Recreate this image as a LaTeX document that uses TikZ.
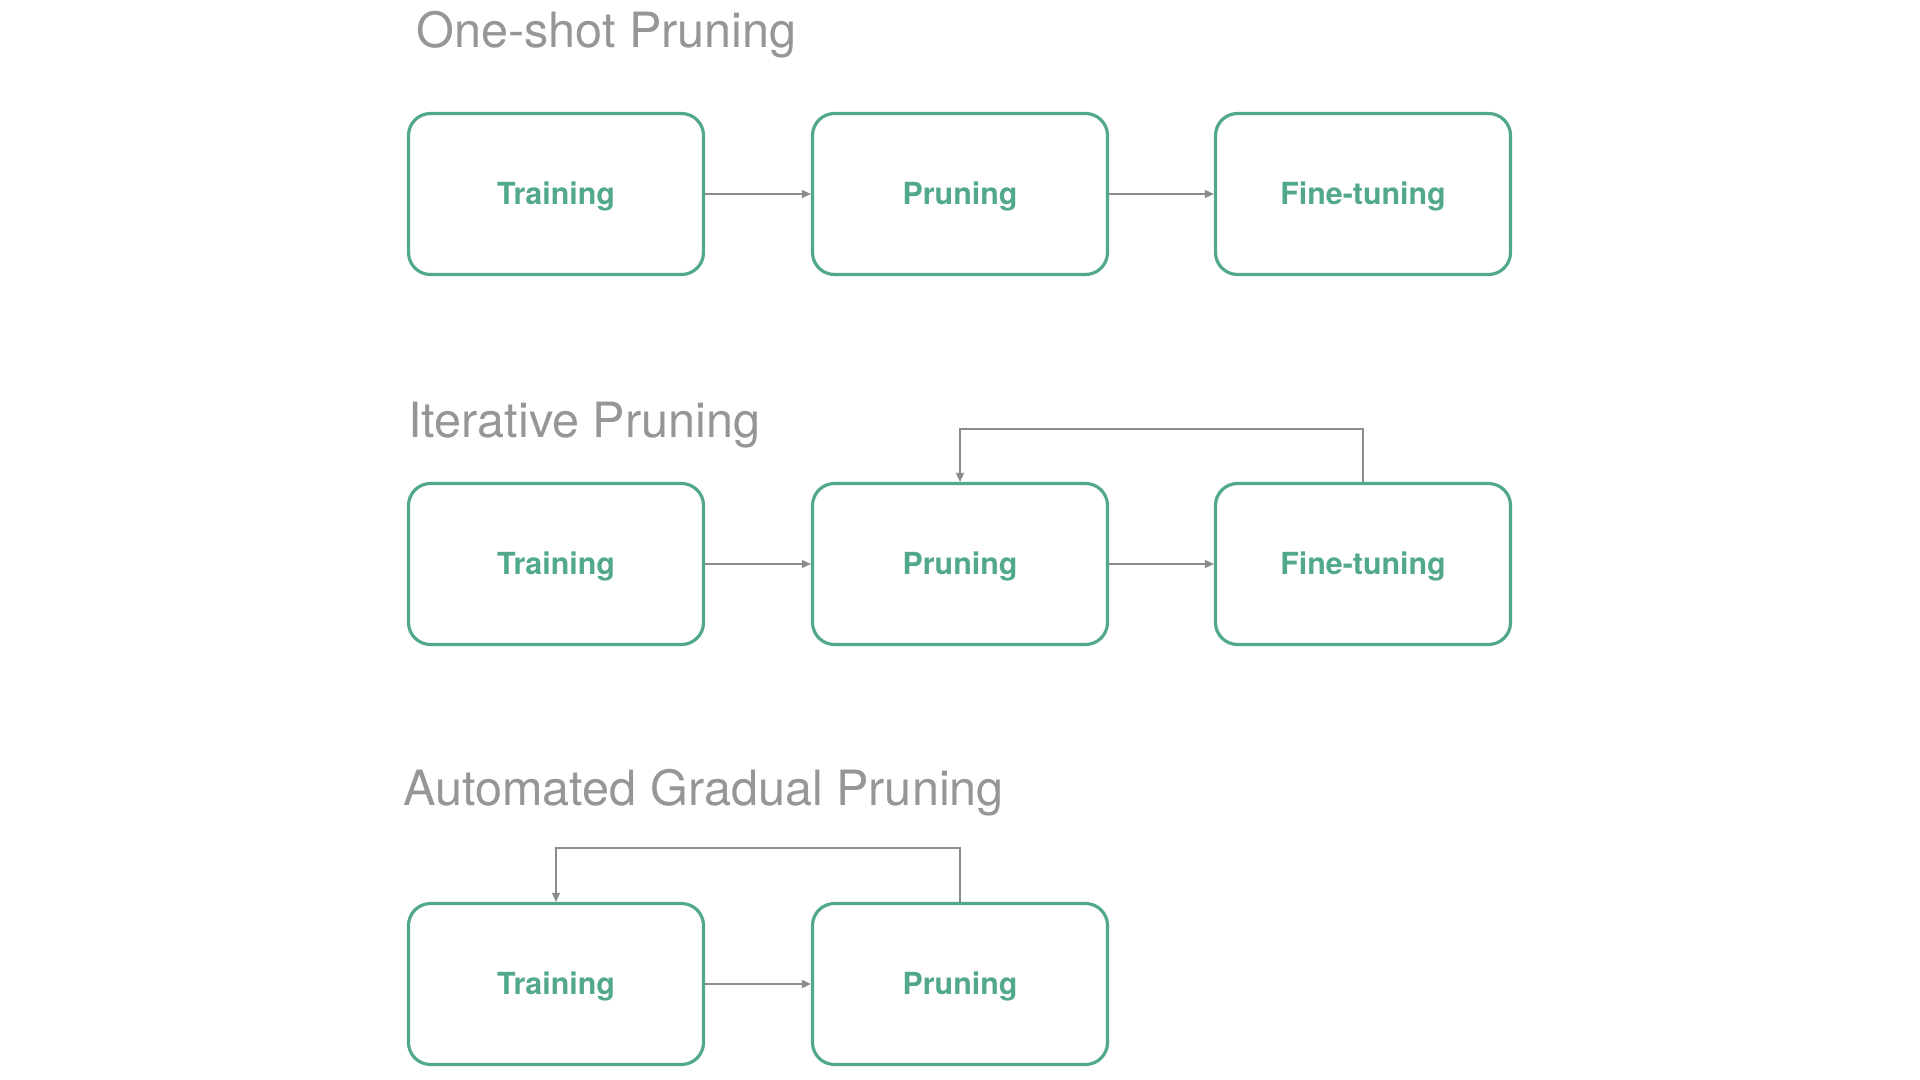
\documentclass[tikz,border=0pt]{standalone}
\usepackage{fontspec}
\setmainfont{TeX Gyre Heros}
\usetikzlibrary{arrows.meta}
\definecolor{boxgreen}{RGB}{82,168,139}
\definecolor{titlegray}{RGB}{150,150,150}
\definecolor{linegray}{RGB}{140,140,140}

\begin{document}
\begin{tikzpicture}[x=0.5pt,y=-0.5pt]
\tikzstyle{every node}+=[inner sep=0pt]
\tikzstyle{stage}=[draw=boxgreen, line width=1.6pt, rounded corners=11pt, minimum width=147.5pt, minimum height=80.5pt, text=boxgreen, text height=10.9pt, text depth=0pt, font=\fontsize{15.2}{18}\selectfont\bfseries]
\tikzstyle{title}=[anchor=base west, text=titlegray, font=\fontsize{24.3}{28}\selectfont]
\tikzstyle{flow}=[draw=linegray, line width=0.75pt, -{Triangle[length=4.5pt,width=4pt]}]
\useasboundingbox (0,0) rectangle (1920,1080);
\node[title] (t1) at (416,48) {One-shot Pruning};
\node[stage] (tr1) at (556,194) {Training};
\node[stage] (pr1) at (960,194) {Pruning};
\node[stage] (ft1) at (1363,194) {Fine-tuning};
\draw[flow] (tr1) -- (pr1);
\draw[flow] (pr1) -- (ft1);
\node[title] (t2) at (408,437) {Iterative Pruning};
\node[stage] (tr2) at (556,564) {Training};
\node[stage] (pr2) at (960,564) {Pruning};
\node[stage] (ft2) at (1363,564) {Fine-tuning};
\draw[flow] (tr2) -- (pr2);
\draw[flow] (pr2) -- (ft2);
\draw[flow] (ft2.north) -- (ft2.north |- 0,429) -| (pr2.north);
\node[title] (t3) at (403,805) {Automated Gradual Pruning};
\node[stage] (tr3) at (556,984) {Training};
\node[stage] (pr3) at (960,984) {Pruning};
\draw[flow] (tr3) -- (pr3);
\draw[flow] (pr3.north) -- (pr3.north |- 0,848) -| (tr3.north);
\end{tikzpicture}
\end{document}
